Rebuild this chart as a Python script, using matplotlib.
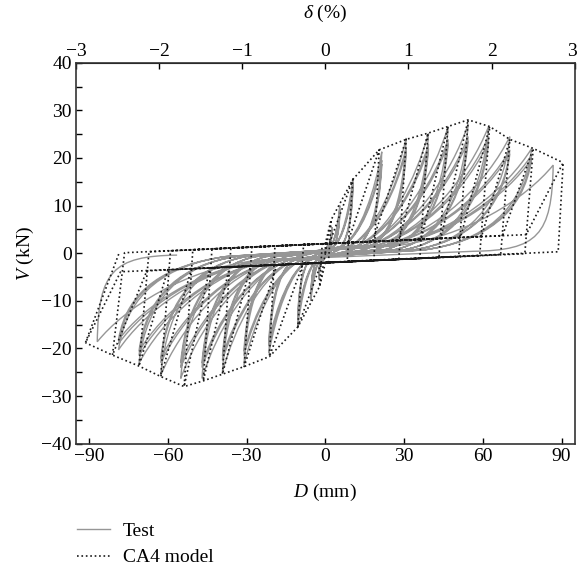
import numpy as np
import matplotlib
matplotlib.use("Agg")
import matplotlib.pyplot as plt
from matplotlib.path import Path
from matplotlib.patches import PathPatch
from matplotlib.lines import Line2D
import matplotlib.transforms as mtransforms

plt.rcParams['font.family'] = ['Liberation Serif', 'DejaVu Serif']
plt.rcParams['mathtext.fontset'] = 'custom'
plt.rcParams['mathtext.rm'] = 'Liberation Serif'
plt.rcParams['mathtext.it'] = 'Liberation Serif:italic'

# test: peak displacement (mm) and peak shear (kN) for each loading level,
# three cycles per level (last level one cycle)
test_pos_D = [2.5, 5.5, 10.5, 21.5, 30.8, 39.3, 46.8, 54.4, 62.2, 70.3, 78.6, 86.8]
test_pos_V1 = [5.5, 10.0, 15.7, 21.3, 24.2, 25.2, 26.6, 27.0, 26.6, 24.5, 22.0, 18.5]
test_pos_V2 = [5.0, 9.3, 14.5, 19.5, 22.2, 22.9, 23.9, 24.5, 24.5, 21.7, 20.6, 18.5]
test_pos_V3 = [4.8, 8.9, 13.8, 18.7, 21.4, 22.0, 23.0, 23.6, 23.4, 20.9, 19.8, 18.5]
test_neg_D = [-2.5, -5.5, -10.5, -21.5, -31.0, -39.2, -47.0, -55.1, -62.7, -71.0, -78.8, -86.9]
test_neg_V1 = [-5.5, -10.0, -15.5, -21.0, -23.5, -24.9, -26.3, -26.3, -25.6, -23.1, -20.3, -18.6]
test_neg_V2 = [-5.0, -9.0, -14.0, -19.5, -21.5, -22.5, -24.0, -24.0, -23.0, -21.5, -19.0, -18.6]
test_neg_V3 = [-4.8, -8.6, -13.4, -18.6, -20.6, -21.6, -23.1, -23.0, -22.1, -20.6, -18.2, -18.6]
test_cycles = [3, 3, 3, 3, 3, 3, 3, 3, 3, 3, 3, 1]

# CA4 model: peaks, unloading ends and reloading starts for each level
model_pos_D = [2.2, 10.5, 20.5, 30.8, 39.1, 46.7, 54.4, 62.6, 70.3, 79.2, 90.6]
model_pos_V = [7.0, 15.5, 21.7, 23.9, 25.2, 26.6, 28.0, 26.6, 23.9, 22.0, 19.0]
model_neg_D = [-2.2, -10.5, -21.3, -30.9, -39.2, -46.5, -53.8, -62.7, -71.0, -81.1, -91.4]
model_neg_V = [-7.0, -15.5, -21.7, -23.8, -25.4, -26.8, -28.0, -25.9, -23.7, -21.4, -18.8]
model_pos_unload_D = [1.2, 8.3, 18.5, 28.0, 36.0, 43.3, 50.8, 58.8, 66.8, 76.0, 88.7]
model_pos_unload_V = [-1.9, -1.8, -1.5, -1.3, -1.1, -0.9, -0.7, -0.5, -0.3, -0.1, 0.3]
model_neg_unload_D = [-1.2, -8.3, -19.2, -28.0, -36.0, -43.2, -50.5, -59.0, -67.2, -76.5, -78.6]
model_neg_unload_V = [1.9, 1.8, 1.5, 1.3, 1.1, 0.9, 0.7, 0.5, 0.3, 0.1, 0.0]
model_pos_reload_D = [0.0, 1.5, 8.5, 18.0, 28.0, 36.5, 44.0, 51.5, 59.5, 67.5, 76.5]
model_pos_reload_V = [2.0, 2.0, 2.2, 2.5, 2.7, 2.9, 3.1, 3.3, 3.5, 3.7, 3.9]
model_neg_reload_D = [0.0, -1.5, -8.5, -18.5, -28.5, -36.5, -44.0, -51.0, -60.0, -68.0, -78.0]
model_neg_reload_V = [-2.0, -2.0, -2.2, -2.5, -2.7, -2.9, -3.1, -3.3, -3.5, -3.7, -3.9]

x_ticks = [-90, -60, -30, 0, 30, 60, 90]
y_ticks = [-40, -30, -20, -10, 0, 10, 20, 30, 40]
drift_ticks = [-3, -2, -1, 0, 1, 2, 3]

GRAY = '#969696'
DARK = '#1a1a1a'


def test_path():
    verts = [(0.0, 0.0)]
    codes = [Path.MOVETO]

    def curve(c1, c2, end):
        verts.extend([c1, c2, end])
        codes.extend([Path.CURVE4] * 3)

    pos_V = [test_pos_V1, test_pos_V2, test_pos_V3]
    neg_V = [test_neg_V1, test_neg_V2, test_neg_V3]
    for i, n in enumerate(test_cycles):
        last = i == len(test_cycles) - 1
        for c in range(n):
            dp, vp = test_pos_D[i], pos_V[c][i]
            dn, vn = test_neg_D[i], neg_V[c][i]
            verts.append((dp * 0.3, 1.5))
            codes.append(Path.LINETO)
            curve((dp * 0.62, vp * 0.18), (dp * 0.88, vp * 0.62), (dp, vp))
            if last:
                curve((dp * 0.995, vp * 0.2), (dp * 0.93, 0.6), (dp * 0.65, 0.4))
            else:
                curve((dp * 0.96, vp * 0.4), (dp * 0.76, 2.4), (dp * 0.48, 0.7))
            verts.append((dn * 0.3, -1.5))
            codes.append(Path.LINETO)
            curve((dn * 0.62, vn * 0.18), (dn * 0.88, vn * 0.62), (dn, vn))
            if last:
                curve((dn * 0.995, vn * 0.2), (dn * 0.93, -0.6), (dn * 0.65, -0.4))
            else:
                curve((dn * 0.96, vn * 0.4), (dn * 0.76, -2.4), (dn * 0.48, -0.7))
    return Path(verts, codes)


def model_xy():
    xs, ys = [0.0], [0.0]
    for k in range(len(model_pos_D)):
        xs += [model_pos_reload_D[k], model_pos_D[k], model_pos_unload_D[k],
               model_neg_reload_D[k], model_neg_D[k], model_neg_unload_D[k]]
        ys += [model_pos_reload_V[k], model_pos_V[k], model_pos_unload_V[k],
               model_neg_reload_V[k], model_neg_V[k], model_neg_unload_V[k]]
    return xs, ys


fig = plt.figure(figsize=(5.78, 5.71), dpi=100)
ax = fig.add_axes([76 / 578, 1 - 443.7 / 571, (574.7 - 76) / 578, (443.7 - 62.7) / 571])

ax.add_patch(PathPatch(test_path(), facecolor='none', edgecolor=GRAY, lw=1.0))

mx, my = model_xy()
ax.plot(mx, my, color=DARK, lw=1.2, ls=':')
ax.plot([0.0] + model_pos_D, [0.0] + model_pos_V, color=DARK, lw=1.2, ls=':')
ax.plot([0.0] + model_neg_D, [0.0] + model_neg_V, color=DARK, lw=1.2, ls=':')

ax.set_xlim(-95, 95)
ax.set_ylim(-40, 40)
ax.set_xticks(x_ticks)
ax.set_yticks(y_ticks)
ax.set_yticks(np.arange(-35, 40, 10), minor=True)
ax.tick_params(which='both', direction='in', length=4, width=1, labelsize=14,
               top=False, right=False, pad=3)
for s in ax.spines.values():
    s.set_linewidth(1.2)
    s.set_color('#333333')

ax.set_xlabel(r'$D$ (mm)', fontsize=14, labelpad=12)
ax.set_ylabel(r'$V$ (kN)', fontsize=14, labelpad=4)

sec = ax.secondary_xaxis('top', functions=(lambda d: d * 3 / 95, lambda p: p * 95 / 3))
sec.set_xticks(drift_ticks)
sec.tick_params(direction='in', length=4, width=1, labelsize=14, pad=2)
sec.set_xlabel(r'$\delta$ (%)', fontsize=14, labelpad=18)
# keep the rightmost drift label inside the canvas
last_lab = sec.get_xticklabels()[-1]
last_lab.set_transform(last_lab.get_transform() +
                       mtransforms.ScaledTranslation(-3 / 100, 0, fig.dpi_scale_trans))

handles = [Line2D([], [], color=GRAY, lw=1.0),
           Line2D([], [], color=DARK, lw=1.2, ls=':')]
fig.legend(handles, ['Test', 'CA4 model'], loc='upper left',
           bbox_to_anchor=(59 / 578, 1 - 505 / 571), frameon=False,
           fontsize=14, handlelength=1.7, handletextpad=0.7, labelspacing=0.45)

fig.savefig('out.png', dpi=100)
